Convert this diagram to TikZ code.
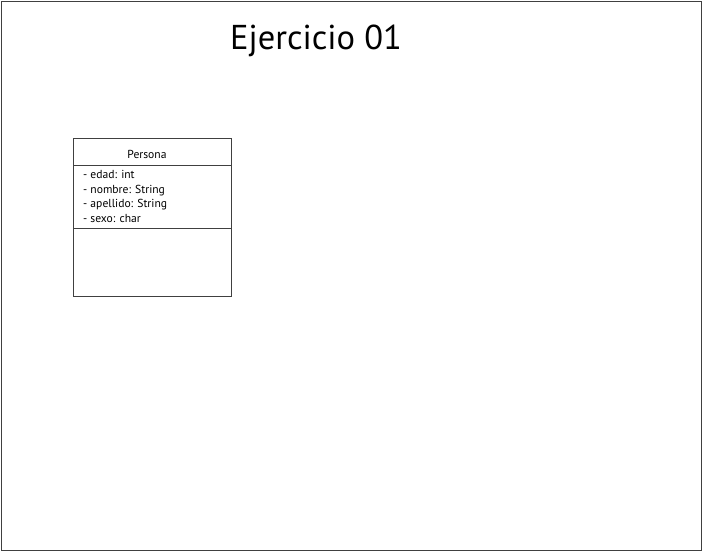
\documentclass[tikz,border=0pt]{standalone}
\usepackage{fontspec}
\setmainfont{PT Sans}
\usepackage{tikz}
\usetikzlibrary{positioning}

\begin{document}
\begin{tikzpicture}[x=1pt, y=-1pt,
	caja/.style={draw=black!75, line width=0.8pt},
	atributo/.style={anchor=base west, inner sep=0pt, font=\fontsize{11.6}{13}\selectfont}]
				%% Marco
				\useasboundingbox (0,0) rectangle (702,552);
				\draw [black!75, line width=1pt] (1,1) rectangle (701,550);
				
				%% Titulo
				\node (titulo) at (316,40.5) {\fontsize{34.5}{40}\selectfont Ejercicio 01};
				
				%% Clase Persona
				\draw [caja] (73,138) rectangle (231,296);
				\coordinate (nomizq) at (73,165);
				\coordinate (nomder) at (231,165);
				\coordinate (atrizq) at (73,228);
				\coordinate (atrder) at (231,228);
				\draw [caja] (nomizq)--(nomder);
				\draw [caja] (atrizq)--(atrder);
				
				\node (persona) at (147,154) {\fontsize{11.6}{13}\selectfont Persona};
				
				\node [atributo] (edad) at (83,178.8) {- edad: int};
				\node [atributo] (nombre) at (83,193.3) {- nombre: String};
				\node [atributo] (apellido) at (83,207.8) {- apellido: String};
				\node [atributo] (sexo) at (83,222.3) {- sexo: char};
				
			\end{tikzpicture}
\end{document}
